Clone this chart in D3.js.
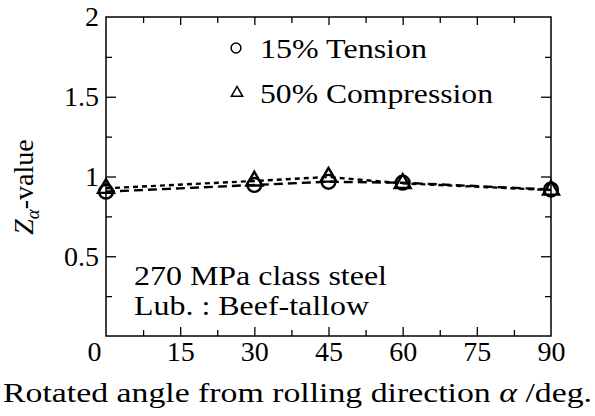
<!DOCTYPE html>
<html>
<head>
<meta charset="utf-8">
<script src="https://cdn.jsdelivr.net/npm/d3@7"></script>
<style>
  html, body { margin: 0; padding: 0; background: #fff; }
  svg { display: block; }
</style>
</head>
<body>
<svg id="chart" width="595" height="416"></svg>
<script>
// Rotation angle from the rolling direction (deg)
const angles = [0, 30, 45, 60, 90];
// Z_alpha values for each test
const tension = [0.905, 0.947, 0.967, 0.961, 0.918];
const compression = [0.926, 0.972, 0.997, 0.957, 0.915];

const xMajorTicks = [0, 15, 30, 45, 60, 75, 90];
const xMinorTicks = [7.5, 22.5, 37.5, 52.5, 67.5, 82.5];
const yMajorTicks = [0.5, 1, 1.5, 2];
const yMinorTicks = [0.25, 0.75, 1.25, 1.75];
const yTickLabels = ["0.5", "1", "1.5", "2"];

const legendLabels = ["15% Tension", "50% Compression"];
const noteLines = ["270 MPa class steel", "Lub. : Beef-tallow"];

const FONT = "'Liberation Serif'";
const svg = d3.select("#chart").style("font-family", FONT);
const plotL = 106, plotR = 551, plotT = 17, plotB = 336;

const x = d3.scaleLinear().domain([0, 90]).range([plotL, plotR]);
const y = d3.scaleLinear().domain([0, 2]).range([plotB, plotT]);

const fontTick = 28;

// frame
svg.append("rect")
  .attr("x", plotL).attr("y", plotT)
  .attr("width", plotR - plotL).attr("height", plotB - plotT)
  .attr("fill", "none").attr("stroke", "#000").attr("stroke-width", 1.5);

function styleAxis(g) {
  g.attr("font-family", null).attr("font-size", null);
  g.select(".domain").remove();
  g.selectAll(".tick line").attr("stroke", "#000").attr("stroke-width", 1.3);
  g.selectAll(".tick text")
    .style("font-family", FONT)
    .style("font-size", fontTick + "px").attr("fill", "#000");
}

// bottom axis with labels
const gx = svg.append("g").attr("transform", `translate(0,${plotB})`)
  .call(d3.axisBottom(x).tickValues(xMajorTicks).tickSizeInner(-9).tickSizeOuter(0)
    .tickPadding(5).tickFormat(d3.format("d")));
styleAxis(gx);
gx.selectAll(".tick").filter(d => d === 0).select("text").attr("dx", -12);
gx.selectAll(".tick").filter(d => d === 0 || d === 90).select("line").remove();

svg.append("g").attr("transform", `translate(0,${plotB})`)
  .call(d3.axisBottom(x).tickValues(xMinorTicks).tickSizeInner(-6).tickSizeOuter(0).tickFormat(""))
  .call(styleAxis);

// top axis ticks
svg.append("g").attr("transform", `translate(0,${plotT})`)
  .call(d3.axisTop(x).tickValues(xMajorTicks.slice(1, -1)).tickSizeInner(-8).tickSizeOuter(0).tickFormat(""))
  .call(styleAxis);
svg.append("g").attr("transform", `translate(0,${plotT})`)
  .call(d3.axisTop(x).tickValues(xMinorTicks).tickSizeInner(-6).tickSizeOuter(0).tickFormat(""))
  .call(styleAxis);

// left axis with labels
const gy = svg.append("g").attr("transform", `translate(${plotL},0)`)
  .call(d3.axisLeft(y).tickValues(yMajorTicks).tickSizeInner(-10).tickSizeOuter(0)
    .tickPadding(7).tickFormat((d, i) => yTickLabels[i]));
styleAxis(gy);
gy.selectAll(".tick").filter(d => d === 2).select("line").remove();
svg.append("g").attr("transform", `translate(${plotL},0)`)
  .call(d3.axisLeft(y).tickValues(yMinorTicks).tickSizeInner(-6).tickSizeOuter(0).tickFormat(""))
  .call(styleAxis);

// right axis ticks
svg.append("g").attr("transform", `translate(${plotR},0)`)
  .call(d3.axisRight(y).tickValues(yMajorTicks.slice(0, -1)).tickSizeInner(-10).tickSizeOuter(0).tickFormat(""))
  .call(styleAxis);
svg.append("g").attr("transform", `translate(${plotR},0)`)
  .call(d3.axisRight(y).tickValues(yMinorTicks).tickSizeInner(-6).tickSizeOuter(0).tickFormat(""))
  .call(styleAxis);

// series lines
const line = d3.line().x(d => x(d[0])).y(d => y(d[1]));
const tPts = angles.map((a, i) => [a, tension[i]]);
const cPts = angles.map((a, i) => [a, compression[i]]);

svg.append("path").datum(tPts).attr("d", line)
  .attr("fill", "none").attr("stroke", "#000").attr("stroke-width", 2.4)
  .attr("stroke-dasharray", "9,5");
svg.append("path").datum(cPts).attr("d", line)
  .attr("fill", "none").attr("stroke", "#000").attr("stroke-width", 2.4)
  .attr("stroke-dasharray", "5,4");

// markers
const circleSym = d3.symbol().type(d3.symbolCircle);
const triSym = d3.symbol().type(d3.symbolTriangle);

svg.append("g").selectAll("path").data(tPts).join("path")
  .attr("transform", d => `translate(${x(d[0])},${y(d[1])})`)
  .attr("d", circleSym.size(150)())
  .attr("fill", "none").attr("stroke", "#000").attr("stroke-width", 2.4);
svg.append("g").selectAll("path").data(cPts).join("path")
  .attr("transform", d => `translate(${x(d[0])},${y(d[1])})`)
  .attr("d", triSym.size(110)())
  .attr("fill", "none").attr("stroke", "#000").attr("stroke-width", 2.4);

function addText(parent, xp, yp, size, str) {
  return parent.append("text").attr("x", xp).attr("y", yp)
    .style("font-family", FONT).style("font-size", size + "px").attr("fill", "#000").text(str);
}

// legend
const legend = svg.append("g");
legend.append("path").attr("transform", "translate(236,48)")
  .attr("d", circleSym.size(75)()).attr("fill", "none").attr("stroke", "#000").attr("stroke-width", 1.5);
legend.append("path").attr("transform", "translate(237,93)")
  .attr("d", triSym.size(55)()).attr("fill", "none").attr("stroke", "#000").attr("stroke-width", 1.5);
addText(legend, 260, 58, 27, legendLabels[0])
  .attr("textLength", 167).attr("lengthAdjust", "spacingAndGlyphs");
addText(legend, 260, 103, 27, legendLabels[1])
  .attr("textLength", 233).attr("lengthAdjust", "spacingAndGlyphs");

// material / lubricant note
addText(svg, 134, 285, 27, noteLines[0])
  .attr("textLength", 253).attr("lengthAdjust", "spacingAndGlyphs");
addText(svg, 134, 315, 27, noteLines[1])
  .attr("textLength", 235).attr("lengthAdjust", "spacingAndGlyphs");

// x-axis title
const xt = addText(svg, 3, 402, 28, null)
  .attr("textLength", 589).attr("lengthAdjust", "spacingAndGlyphs");
xt.append("tspan").text("Rotated angle from rolling direction ");
xt.append("tspan").attr("font-style", "italic").text("α");
xt.append("tspan").text(" /deg.");

// y-axis title
const yt = svg.append("text").attr("transform", "translate(33,187) rotate(-90)")
  .attr("text-anchor", "middle").style("font-family", FONT).style("font-size", "28px");
yt.append("tspan").attr("font-style", "italic").text("Z");
yt.append("tspan").attr("font-style", "italic").style("font-size", "19px").attr("dy", 6).text("α");
yt.append("tspan").attr("dy", -6).text("-value");
</script>
</body>
</html>
